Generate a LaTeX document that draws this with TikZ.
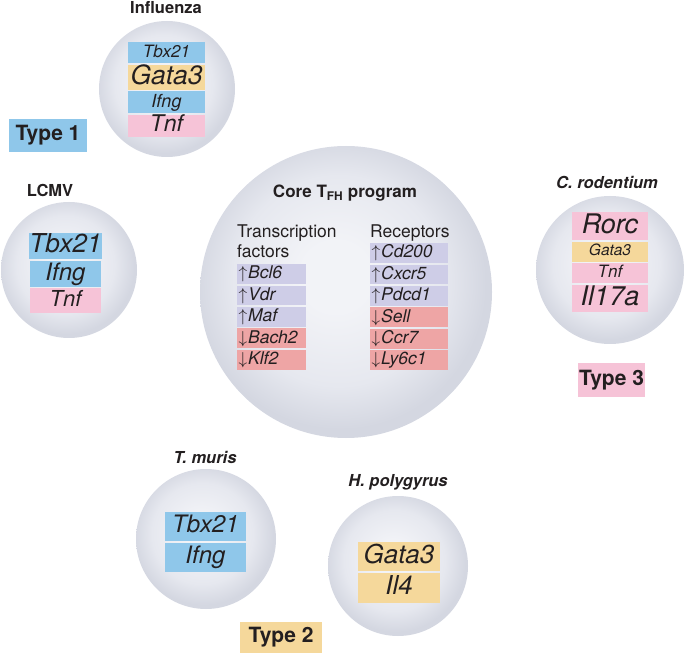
\documentclass[tikz,border=0pt]{standalone}
\usepackage{fontspec}
\setmainfont{TeX Gyre Heros}
\usetikzlibrary{positioning}

\definecolor{ink}{HTML}{231F20}
\definecolor{gblue}{HTML}{8FC7EA}
\definecolor{gyel}{HTML}{F5D89B}
\definecolor{gpink}{HTML}{F6C3D7}
\definecolor{glav}{HTML}{CECDE7}
\definecolor{gred}{HTML}{EEA5A5}
\definecolor{cellin}{HTML}{F2F3F7}
\definecolor{cellmid}{HTML}{E6E8EF}
\definecolor{cellout}{HTML}{D4D7E1}
\pgfdeclareradialshading{cellshade}{\pgfpoint{-2bp}{3bp}}{%
  color(0bp)=(cellin); color(6bp)=(cellin); color(18bp)=(cellmid);
  color(25bp)=(cellout); color(50bp)=(cellout)}

\tikzset{
  cell/.style={circle, inner sep=0pt, shading=cellshade},
  gene/.style={inner sep=0pt, text=ink},
  fs/.style={font=\fontsize{#1}{#1}\selectfont\itshape, text height={0.72*#1}, text depth={0.2*#1}},
  bl/.style={fill=gblue}, yl/.style={fill=gyel}, pk/.style={fill=gpink},
  lv/.style={fill=glav}, rd/.style={fill=gred},
  lab/.style={text=ink, inner sep=0pt, font=\fontsize{16.5}{16.5}\selectfont\bfseries},
  species/.style={lab, font=\fontsize{16.5}{16.5}\selectfont\bfseries\itshape},
  typebox/.style={text=ink, inner sep=0pt, font=\fontsize{21}{21}\selectfont\bfseries},
  corerow/.style={inner sep=0pt, inner xsep=1.5pt, text=ink, align=left, minimum height=19.8,
    font=\fontsize{17.5}{17.5}\selectfont, text height=13, text depth=3.5},
  corehead/.style={inner sep=0pt, text=ink, align=left, font=\fontsize{17.5}{19.5}\selectfont}
}
\newcommand{\up}{$\uparrow$\kern1pt}
\newcommand{\dn}{$\downarrow$\kern1pt}

\begin{document}
\begin{tikzpicture}[x=1pt, y=1pt, node distance=1.2pt]
  \useasboundingbox (0,0) rectangle (685,654);

  % cells
  \node[cell, minimum size=136] (flu) at (167,565) {};
  \node[cell, minimum size=136] (lcmv) at (69,384) {};
  \node[cell, minimum size=292] (core) at (346,362) {};
  \node[cell, minimum size=148] (crod) at (610,384) {};
  \node[cell, minimum size=140] (tmur) at (206,115) {};
  \node[cell, minimum size=140] (hpol) at (398,88) {};

  % Influenza
  \node[lab] at (166,646) {Influenza};
  \node[gene, bl, fs=17, minimum width=77, minimum height=21, anchor=north] (flu1) at (166.5,612) {Tbx21};
  \node[gene, yl, fs=26.5, minimum width=77, minimum height=25, below=of flu1] (flu2) {Gata3};
  \node[gene, bl, fs=18, minimum width=77, minimum height=22, below=of flu2] (flu3) {Ifng};
  \node[gene, pk, fs=23, minimum width=77, minimum height=22, below=of flu3] (flu4) {Tnf};
  \node[typebox, bl, minimum width=78, minimum height=33] (type1) at (48,518.5) {Type 1};

  % LCMV
  \node[lab] at (50,464) {LCMV};
  \node[gene, bl, fs=26, minimum width=71, minimum height=26, anchor=north] (lc1) at (65.5,421) {Tbx21};
  \node[gene, bl, fs=24, minimum width=71, minimum height=26, below=of lc1] (lc2) {Ifng};
  \node[gene, pk, fs=22, minimum width=71, minimum height=25, below=of lc2] (lc3) {Tnf};

  % core program
  \node[lab, font=\fontsize{17}{17}\selectfont\bfseries] at (345,461) {Core T\textsubscript{FH} program};
  \node[corehead, anchor=north west] (tfhead) at (237,429) {Transcription\\factors};
  \node[corehead, anchor=north west] (rchead) at (370,429) {Receptors};

  \node[corerow, lv, text width=66, anchor=north] (tf1) at (271.5,390) {\up\textit{Bcl6}};
  \node[corerow, lv, text width=66, below=of tf1] (tf2) {\up\textit{Vdr}};
  \node[corerow, lv, text width=66, below=of tf2] (tf3) {\up\textit{Maf}};
  \node[corerow, rd, text width=66, below=of tf3] (tf4) {\dn\textit{Bach2}};
  \node[corerow, rd, text width=66, below=of tf4] (tf5) {\dn\textit{Klf2}};

  \node[corerow, lv, text width=75, anchor=north] (rc1) at (409,411) {\up\textit{Cd200}};
  \node[corerow, lv, text width=75, below=of rc1] (rc2) {\up\textit{Cxcr5}};
  \node[corerow, lv, text width=75, below=of rc2] (rc3) {\up\textit{Pdcd1}};
  \node[corerow, rd, text width=75, below=of rc3] (rc4) {\dn\textit{Sell}};
  \node[corerow, rd, text width=75, below=of rc4] (rc5) {\dn\textit{Ccr7}};
  \node[corerow, rd, text width=75, below=of rc5] (rc6) {\dn\textit{Ly6c1}};

  % C. rodentium
  \node[species] at (607,472) {C. rodentium};
  \node[gene, pk, fs=27, minimum width=76, minimum height=28, anchor=north] (cr1) at (610,442) {Rorc};
  \node[gene, yl, fs=15.5, minimum width=76, minimum height=20, below=of cr1] (cr2) {Gata3};
  \node[gene, pk, fs=17, minimum width=76, minimum height=20, below=of cr2] (cr3) {Tnf};
  \node[gene, pk, fs=27, minimum width=76, minimum height=27, below=of cr3] (cr4) {Il17a};
  \node[typebox, pk, minimum width=67, minimum height=34] (type3) at (611.5,274) {Type 3};

  % T. muris
  \node[species] at (205,197) {T. muris};
  \node[gene, bl, fs=24, minimum width=81, minimum height=29, anchor=north] (tm1) at (205.5,142) {Tbx21};
  \node[gene, bl, fs=24, minimum width=81, minimum height=29, below=of tm1] (tm2) {Ifng};

  % H. polygyrus
  \node[species] at (398,172) {H. polygyrus};
  \node[gene, yl, fs=26, minimum width=82, minimum height=29, anchor=north] (hp1) at (399,112) {Gata3};
  \node[gene, yl, fs=26, minimum width=82, minimum height=30, below=of hp1] (hp2) {Il4};
  \node[typebox, yl, minimum width=82, minimum height=31] (type2) at (281,16.5) {Type 2};
\end{tikzpicture}
\end{document}
